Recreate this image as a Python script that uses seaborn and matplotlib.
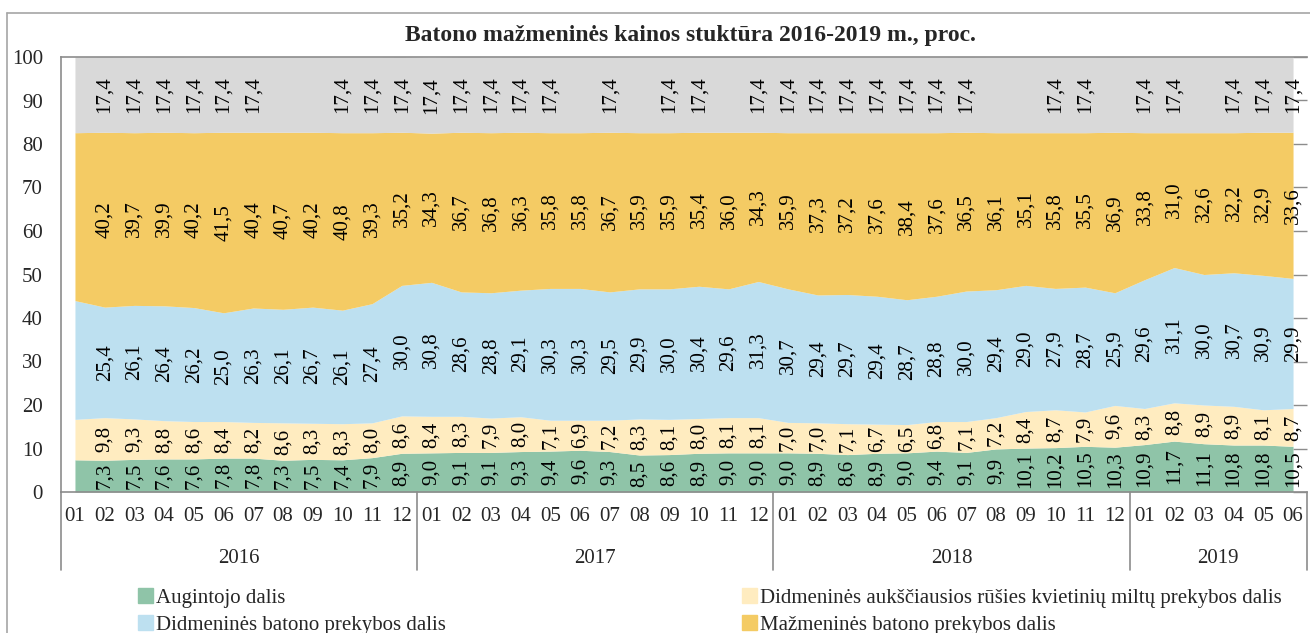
import matplotlib
matplotlib.use("Agg")
import matplotlib.pyplot as plt
import matplotlib.patches as mpatches
import matplotlib.transforms as mtransforms
from matplotlib.lines import Line2D
import seaborn as sns

# ---------- data ----------
months = [f"{m:02d}" for m in range(1, 13)] * 3 + [f"{m:02d}" for m in range(1, 7)]
years = ["2016", "2017", "2018", "2019"]
year_len = [12, 12, 12, 6]

augintojo = [7.4, 7.3, 7.5, 7.6, 7.6, 7.8, 7.8, 7.3, 7.5, 7.4, 7.9, 8.9,
             9.0, 9.1, 9.1, 9.3, 9.4, 9.6, 9.3, 8.5, 8.6, 8.9, 9.0, 9.0,
             9.0, 8.9, 8.6, 8.9, 9.0, 9.4, 9.1, 9.9, 10.1, 10.2, 10.5, 10.3,
             10.9, 11.7, 11.1, 10.8, 10.8, 10.5]
miltai = [9.3, 9.8, 9.3, 8.8, 8.6, 8.4, 8.2, 8.6, 8.3, 8.3, 8.0, 8.6,
          8.4, 8.3, 7.9, 8.0, 7.1, 6.9, 7.2, 8.3, 8.1, 8.0, 8.1, 8.1,
          7.0, 7.0, 7.1, 6.7, 6.5, 6.8, 7.1, 7.2, 8.4, 8.7, 7.9, 9.6,
          8.3, 8.8, 8.9, 8.9, 8.1, 8.7]
didm_batono = [27.3, 25.4, 26.1, 26.4, 26.2, 25.0, 26.3, 26.1, 26.7, 26.1, 27.4, 30.0,
               30.8, 28.6, 28.8, 29.1, 30.3, 30.3, 29.5, 29.9, 30.0, 30.4, 29.6, 31.3,
               30.7, 29.4, 29.7, 29.4, 28.7, 28.8, 30.0, 29.4, 29.0, 27.9, 28.7, 25.9,
               29.6, 31.1, 30.0, 30.7, 30.9, 29.9]
mazm_batono = [38.6, 40.2, 39.7, 39.9, 40.2, 41.5, 40.4, 40.7, 40.2, 40.8, 39.3, 35.2,
               34.3, 36.7, 36.8, 36.3, 35.8, 35.8, 36.7, 35.9, 35.9, 35.4, 36.0, 34.3,
               35.9, 37.3, 37.2, 37.6, 38.4, 37.6, 36.5, 36.1, 35.1, 35.8, 35.5, 36.9,
               33.8, 31.0, 32.6, 32.2, 32.9, 33.6]
pvm = [17.4] * 42
# points where the top (grey) label is not shown
pvm_hidden = [0, 7, 8, 17, 19, 22, 31, 32, 35, 38]

names = ["Augintojo dalis",
         "Didmeninės aukščiausios rūšies kvietinių miltų prekybos dalis",
         "Didmeninės batono prekybos dalis",
         "Mažmeninės batono prekybos dalis"]

# ---------- style ----------
sns.set_style("white")
plt.rcParams["font.family"] = ["Liberation Serif", "DejaVu Serif"]
colors = sns.color_palette(["#8FC4A8", "#FFECC0", "#BDE0F0", "#F4CB64", "#D9D9D9"])
line_col = "#8C8C8C"

fig = plt.figure(figsize=(13.1, 6.33), dpi=100)
W, H = 1310, 633
ax = fig.add_axes([61 / W, (H - 492) / H, (1307 - 61) / W, (492 - 57) / H])

x = list(range(len(months)))
series = [augintojo, miltai, didm_batono, mazm_batono, pvm]
ax.stackplot(x, *series, colors=colors, linewidth=0)

# data labels
base = [0.0] * len(x)
for k, s in enumerate(series):
    for i, v in enumerate(s):
        if i == 0 or (k == 4 and i in pvm_hidden):
            continue
        ax.text(i, base[i] + v / 2, f"{v:.1f}".replace(".", ","), rotation=90,
                ha="center", va="center", fontsize=15, color="black")
    base = [b + v for b, v in zip(base, s)]

ax.set_xlim(-0.47, 41.47)
ax.set_ylim(0, 100)
ax.set_yticks(range(0, 101, 10))
ax.set_xticks(x)
ax.set_xticklabels(months)
ax.tick_params(axis="y", direction="in", length=10, width=1, color=line_col,
               labelsize=15, pad=13, right=True)
ax.tick_params(axis="x", length=0, labelsize=15, pad=11)
for side in ["left", "bottom", "top"]:
    ax.spines[side].set_color(line_col)
    ax.spines[side].set_linewidth(1.2)
ax.spines["right"].set_visible(False)

# year groups under the months
trans = mtransforms.blended_transform_factory(ax.transData, ax.transAxes)
seps = [-0.47, 11.5, 23.5, 35.5, 41.47]
for s in seps:
    ax.add_line(Line2D([s, s], [0, -0.179], transform=trans, color=line_col,
                       lw=1.2, clip_on=False))
start = -0.47
for yr, n, end in zip(years, year_len, seps[1:]):
    ax.text((start + end) / 2, -0.152, yr, transform=trans, ha="center",
            va="center", fontsize=15)
    start = end

# title
fig.text(690 / W, 1 - 35 / H, "Batono mažmeninės kainos stuktūra 2016-2019 m., proc.",
         ha="center", va="center", fontsize=17, fontweight="bold")

# outer chart border
fig.add_artist(Line2D([7 / W, 7 / W], [0, 1 - 13 / H], transform=fig.transFigure,
                      color="#A6A6A6", lw=1.2))
fig.add_artist(Line2D([7 / W, 1], [1 - 13 / H, 1 - 13 / H], transform=fig.transFigure,
                      color="#A6A6A6", lw=1.2))

# legend
patches = [mpatches.Patch(color=colors[i], label=names[i]) for i in range(4)]
leg_kw = dict(loc="upper left", frameon=False, fontsize=15, handlelength=0.7,
              handleheight=0.7, handletextpad=0.15, borderpad=0, labelspacing=0.35)
fig.legend(handles=[patches[0], patches[2]], bbox_to_anchor=(128 / W, 1 - 578 / H), **leg_kw)
fig.legend(handles=[patches[1], patches[3]], bbox_to_anchor=(732 / W, 1 - 578 / H), **leg_kw)

fig.savefig("out.png", dpi=100)
